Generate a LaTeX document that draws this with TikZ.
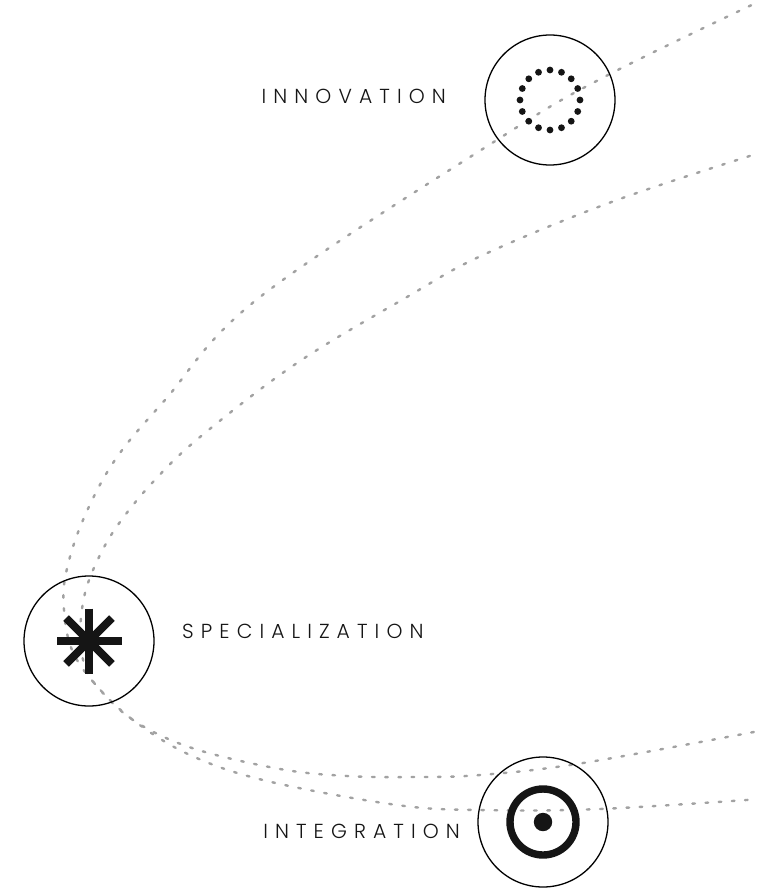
\documentclass[tikz,border=0pt]{standalone}
\usepackage{fontspec}
\setmainfont{Poppins}[UprightFont=* Light]
\def\trkamt{7.1pt}
\def\trk#1{\trkA#1\relax}
\def\trkA#1#2{#1\ifx\relax#2\else\kern\trkamt\expandafter\trkA\expandafter#2\fi}
\definecolor{ink}{HTML}{151515}
\definecolor{path}{HTML}{A2A2A2}
\tikzset{
  ring/.style={circle,draw=black,line width=1.3pt,minimum size=130pt,inner sep=0pt},
  lbl/.style={inner sep=0pt,font=\fontsize{20.3pt}{24pt}\selectfont,text=ink},
  route/.style={draw=path,line width=2.4pt,line cap=round,dash pattern=on 2.6pt off 10.6pt},
}
\begin{document}
\begin{tikzpicture}[x=1pt,y=-1pt]
\useasboundingbox (0,0) rectangle (756,888);
\clip (0,0) rectangle (756,888);
\fill[white] (0,0) rectangle (756,888);
% routes
\draw[route] plot[smooth,tension=0.6] coordinates {(775,-6) (608,75) (500,138) (260,297) (165,400) (115,460) (83,520) (66,573) (64,610) (72,650) (95,684) (133,720) (190,755) (267,781) (397,805) (480,810) (600,809) (775,798)};
\draw[route] plot[smooth,tension=0.6] coordinates {(775,148) (617,200) (483,255) (407,297) (297,363) (200,437) (153,482) (120,522) (100,555) (85,593) (80,635) (84,663) (95,684) (133,720) (192,748) (280,769) (347,776) (413,777) (480,775) (583,763) (775,728)};
% circles
\node[ring] (inn) at (550,100) {};
\node[ring] (spec) at (89,641) {};
\node[ring] (integ) at (543,822) {};
% innovation dots
\foreach \a in {0,22.5,...,337.5}
  \fill[ink] (inn.center) ++(\a:30pt) circle (3.4pt);
% asterisk
\foreach \a in {0,45,90,135}
  \draw[ink,line width=7.8pt] (spec.center) ++(\a:32.5pt) -- ++(\a+180:65pt);
% integration target
\draw[ink,line width=7.4pt] (integ.center) circle (33pt);
\fill[ink] (integ.center) circle (9.2pt);
% labels
\node[lbl,anchor=base east] (tinn) at (446,103) {\trk{INNOVATION}};
\node[lbl,anchor=base west] (tspec) at (182,638) {\trk{SPECIALIZATION}};
\node[lbl,anchor=base east] (tinteg) at (460,838) {\trk{INTEGRATION}};
\end{tikzpicture}
\end{document}
